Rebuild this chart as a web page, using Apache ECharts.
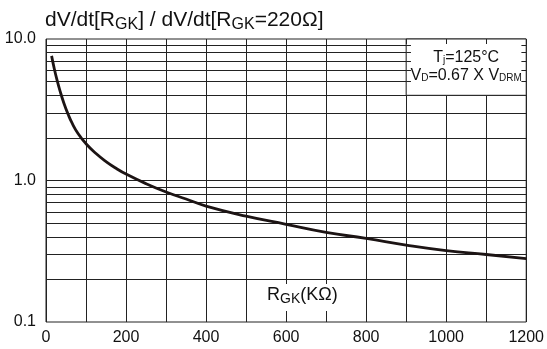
<!DOCTYPE html>
<html>
<head>
<meta charset="utf-8">
<script src="https://cdn.jsdelivr.net/npm/echarts@6/dist/echarts.min.js"></script>
<style>
  html, body { margin: 0; padding: 0; background: #fff; }
  #chart { width: 547px; height: 349px; }
</style>
</head>
<body>
<div id="chart"></div>
<script>
// curve (R_GK in kOhm, normalised dV/dt)
var rgk = [14, 20, 27, 35, 45, 55, 65, 80, 100, 125, 150, 175, 200, 250, 300, 350, 400, 500, 600, 700, 800, 900, 1000, 1100, 1200];
var ratio = [7.6, 6.3, 5.2, 4.3, 3.5, 2.95, 2.55, 2.15, 1.82, 1.55, 1.36, 1.22, 1.11, 0.95, 0.83, 0.74, 0.66, 0.56, 0.49, 0.43, 0.39, 0.35, 0.32, 0.30, 0.28];

// horizontal log grid lines
var gridLevels = [0.2, 0.3, 0.4, 0.5, 0.6, 0.7, 0.8, 0.9, 1, 2, 3, 4, 5, 6, 7, 8, 9];
// levels that get short stubs at the edges of the note box
var stubLevels = [5, 6, 7, 8, 9];

var chartDom = document.getElementById('chart');
var myChart = echarts.init(chartDom);

var lineColor = '#222';
var font = 'Liberation Sans, Arial, sans-serif';

var points = rgk.map(function (x, i) { return [x, ratio[i]]; });

var stubData = [];
stubLevels.forEach(function (v) {
    stubData.push([{ coord: [900, v] }, { coord: [912, v] }]);
    stubData.push([{ coord: [1188, v] }, { coord: [1200, v] }]);
});

var option = {
    animation: false,
    title: [
        {
            text: '{a|dV/dt[R}{s|GK}{a|] / dV/dt[R}{s|GK}{a|=220Ω]}',
            left: 40,
            top: 2,
            textStyle: {
                rich: {
                    a: { fontSize: 21, fontWeight: 'normal', fontFamily: font, color: '#111' },
                    s: { fontSize: 16, fontWeight: 'normal', fontFamily: font, color: '#111', padding: [10, 0, 0, 0] }
                }
            }
        },
        {
            text: '{a|R}{s|GK}{a|(KΩ)}',
            left: 263,
            top: 282,
            padding: [2, 4, 5, 4],
            backgroundColor: '#fff',
            textStyle: {
                rich: {
                    a: { fontSize: 18, fontWeight: 'normal', fontFamily: font, color: '#111' },
                    s: { fontSize: 14, fontWeight: 'normal', fontFamily: font, color: '#111', padding: [8, 0, 0, 0] }
                }
            }
        }
    ],
    grid: {
        left: 46,
        right: 18,
        top: 39,
        bottom: 27,
        show: true,
        borderColor: lineColor,
        borderWidth: 1,
        backgroundColor: '#fff'
    },
    xAxis: [
        {
            type: 'value',
            min: 0,
            max: 1200,
            interval: 100,
            axisLine: { show: false },
            axisTick: { show: false },
            axisLabel: {
                color: '#111',
                fontSize: 16,
                fontFamily: font,
                margin: 8,
                formatter: function (v) { return v % 200 === 0 ? String(v) : ''; }
            },
            splitLine: { show: true, lineStyle: { color: lineColor, width: 1 } }
        },
        {
            type: 'value',
            position: 'top',
            min: 0,
            max: 1200,
            interval: 100,
            z: 8,
            axisLine: { show: false },
            axisTick: { show: true, inside: true, length: 5, lineStyle: { color: lineColor } },
            axisLabel: { show: false },
            splitLine: { show: false }
        }
    ],
    yAxis: {
        type: 'log',
        logBase: 10,
        min: 0.1,
        max: 10,
        axisLine: { show: false },
        axisTick: { show: false },
        splitLine: { show: false },
        axisLabel: {
            color: '#111',
            fontSize: 16,
            fontFamily: font,
            margin: 10,
            formatter: function (v) { return v.toFixed(1); }
        }
    },
    series: [
        {
            type: 'line',
            data: points,
            smooth: true,
            symbol: 'none',
            z: 10,
            lineStyle: { color: '#1c1414', width: 2.8 },
            markLine: {
                silent: true,
                z: 3,
                symbol: 'none',
                label: { show: false },
                lineStyle: { color: lineColor, type: 'solid', width: 1 },
                data: gridLevels.map(function (v) { return { yAxis: v }; })
            },
            markArea: {
                silent: true,
                z: 4,
                itemStyle: { color: '#fff', opacity: 1, borderColor: lineColor, borderWidth: 1 },
                label: {
                    show: true,
                    position: 'inside',
                    offset: [0, -1],
                    lineHeight: 18,
                    rich: {
                        a: { fontSize: 16, fontFamily: font, color: '#111', lineHeight: 18 },
                        s: { fontSize: 10, fontFamily: font, color: '#111', padding: [7, 0, 0, 0] }
                    },
                    formatter: '{a|T}{s|j}{a|=125°C}\n{a|V}{s|D}{a|=0.67 X V}{s|DRM}'
                },
                data: [[{ xAxis: 900, yAxis: 4 }, { xAxis: 1200, yAxis: 10 }]]
            }
        },
        {
            type: 'line',
            data: [],
            markLine: {
                silent: true,
                z: 6,
                symbol: 'none',
                label: { show: false },
                lineStyle: { color: lineColor, type: 'solid', width: 1 },
                data: stubData
            }
        }
    ]
};

myChart.setOption(option);
</script>
</body>
</html>
